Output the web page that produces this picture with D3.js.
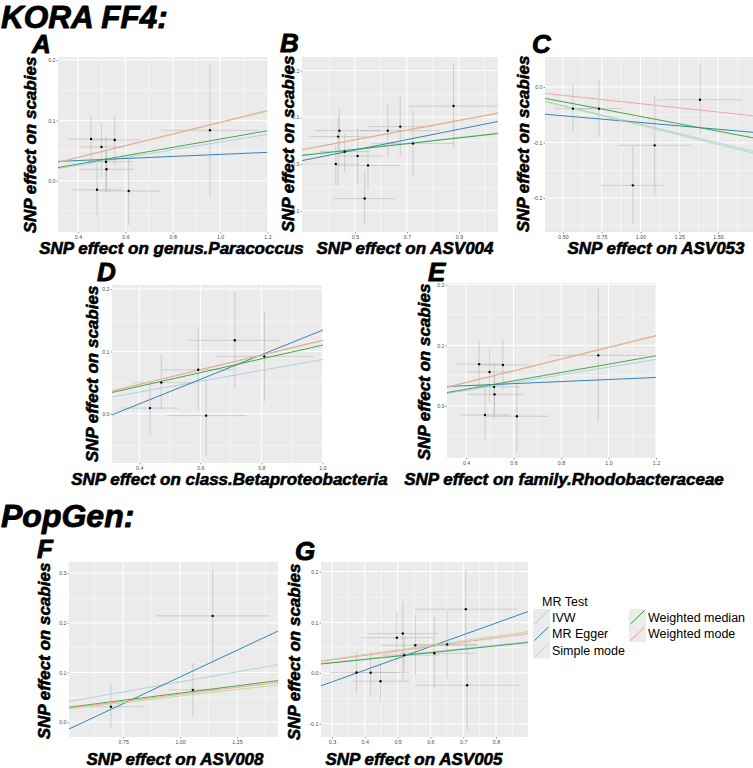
<!DOCTYPE html>
<html><head><meta charset="utf-8">
<script src="https://cdn.jsdelivr.net/npm/d3@7"></script>
<style>body{margin:0;background:#fff}svg{display:block}</style>
</head><body>
<svg id="c" width="753" height="768"></svg>
<script>
// ---------- data ----------
const methods = ["IVW", "MR Egger", "Simple mode", "Weighted median", "Weighted mode"];
const methodColors = ["#a6cee3", "#1f78b4", "#b2df8a", "#33a02c", "#fb9a99"];
const yLabel = "SNP effect on scabies";

// each SNP: [x, y, xLow, xHigh, yLow, yHigh]
const snpA = [
  [0.455, 0.069, 0.355, 0.560, 0.028, 0.108],
  [0.499, 0.056, 0.403, 0.597, 0.006, 0.097],
  [0.555, 0.0675, 0.456, 0.668, 0.0255, 0.109],
  [0.518, 0.0315, 0.442, 0.633, -0.021, 0.072],
  [0.520, 0.019, 0.403, 0.637, -0.015, 0.051],
  [0.480, -0.015, 0.375, 0.582, -0.057, 0.028],
  [0.614, -0.017, 0.485, 0.750, -0.074, 0.036],
  [0.957, 0.0835, 0.750, 1.161, -0.027, 0.194]
];
const snpB = [
  [0.440, 0.0714, 0.346, 0.596, 0.022, 0.119],
  [0.435, 0.0586, 0.327, 0.545, -0.046, 0.101],
  [0.460, 0.0264, 0.365, 0.558, -0.017, 0.065],
  [0.426, 0.000, 0.290, 0.520, -0.046, 0.040],
  [0.510, 0.017, 0.436, 0.609, -0.042, 0.076],
  [0.550, -0.003, 0.429, 0.673, -0.053, 0.022],
  [0.537, -0.074, 0.417, 0.654, -0.131, -0.014],
  [0.626, 0.0714, 0.526, 0.827, 0.015, 0.129],
  [0.674, 0.080, 0.550, 0.800, 0.015, 0.144],
  [0.723, 0.0436, 0.564, 0.878, -0.028, 0.115],
  [0.879, 0.124, 0.705, 1.060, 0.036, 0.215]
];
const snpC = [
  [0.564, -0.039, 0.444, 0.687, -0.080, 0.003],
  [0.732, -0.039, 0.590, 0.886, -0.089, 0.012],
  [1.092, -0.105, 0.861, 1.330, -0.195, -0.016],
  [0.951, -0.177, 0.745, 1.152, -0.247, -0.107],
  [1.384, -0.023, 1.105, 1.659, -0.086, 0.040]
];
const snpD = [
  [0.435, 0.0091, 0.342, 0.528, -0.034, 0.049],
  [0.472, 0.050, 0.375, 0.583, 0.0075, 0.096],
  [0.593, 0.0706, 0.474, 0.708, 0.005, 0.137],
  [0.619, -0.003, 0.490, 0.750, -0.068, 0.055],
  [0.713, 0.118, 0.561, 0.861, 0.041, 0.195],
  [0.810, 0.092, 0.651, 0.973, 0.020, 0.164]
];
const snpE = snpA;
const snpF = [
  [0.696, 0.031, 0.600, 0.840, -0.014, 0.077],
  [1.056, 0.065, 0.950, 1.160, 0.011, 0.120],
  [1.143, 0.214, 0.894, 1.391, 0.119, 0.307]
];
const snpG = [
  [0.375, 0.0013, 0.294, 0.502, -0.040, 0.042],
  [0.418, 0.0007, 0.360, 0.536, -0.043, 0.042],
  [0.448, -0.016, 0.362, 0.536, -0.057, 0.022],
  [0.498, 0.0697, 0.390, 0.609, 0.019, 0.121],
  [0.516, 0.078, 0.411, 0.624, -0.014, 0.141],
  [0.520, 0.0355, 0.451, 0.629, 0.0026, 0.072],
  [0.554, 0.055, 0.451, 0.741, -0.004, 0.114],
  [0.612, 0.039, 0.507, 0.741, -0.030, 0.111],
  [0.651, 0.0566, 0.558, 0.746, -0.011, 0.124],
  [0.708, 0.126, 0.553, 0.863, 0.045, 0.203],
  [0.712, -0.024, 0.556, 0.871, -0.1125, 0.055]
];

// slopes in method order; only MR Egger has an intercept
const slopesA = [0.064, 0.017, 0.096, 0.069, 0.097];
const slopesB = [0.063, 0.111, 0.103, 0.062, 0.104];
const slopesC = [-0.067, -0.0243, -0.069, -0.053, -0.030];
const slopesD = [0.087, 0.197, 0.117, 0.110, 0.118];
const slopesE = slopesA;
const slopesF = [0.081, 0.215, 0.0525, 0.0585, 0.056];
const slopesG = [0.069, 0.232, 0.091, 0.067, 0.087];
const eggerIntercepts = {A: 0.0266, B: -0.0256, C: -0.0396, D: -0.063, E: 0.0266, F: -0.124, G: -0.087};

const xLabels = {
  A: "SNP effect on genus.Paracoccus",
  B: "SNP effect on ASV004",
  C: "SNP effect on ASV053",
  D: "SNP effect on class.Betaproteobacteria",
  E: "SNP effect on family.Rhodobacteraceae",
  F: "SNP effect on ASV008",
  G: "SNP effect on ASV005"
};
const xTicks = {
  A: [0.4, 0.6, 0.8, 1.0, 1.2], B: [0.5, 0.7, 0.9], C: [0.5, 0.75, 1.0, 1.25, 1.5],
  D: [0.4, 0.6, 0.8, 1.0], E: [0.4, 0.6, 0.8, 1.0, 1.2], F: [0.75, 1.0, 1.25],
  G: [0.3, 0.4, 0.5, 0.6, 0.7, 0.8]
};
const yTicks = {
  A: [0, 0.1, 0.2], B: [-0.1, 0, 0.1, 0.2], C: [-0.2, -0.1, 0], D: [0, 0.1, 0.2],
  E: [0, 0.1, 0.2], F: [0, 0.1, 0.2, 0.3], G: [-0.1, 0, 0.1, 0.2]
};
const xDomains = {
  A: [0.3154, 1.2], B: [0.296, 1.05], C: [0.384, 1.726], D: [0.3105, 1.002],
  E: [0.3197, 1.2], F: [0.512, 1.43], G: [0.2665, 0.8976]
};
const yDomains = {
  A: [-0.085, 0.205], B: [-0.1456, 0.229], C: [-0.261, 0.054], D: [-0.079, 0.2066],
  E: [-0.086, 0.203], F: [-0.030, 0.3226], G: [-0.126, 0.219]
};

// ---------- layout ----------
const layout = {
  A: {l: 58, r: 267.5, t: 57, b: 232, lx: 32, ly: 53, yx: 36, yy: 145, xx: 171.5, xy: 254, xf: ".1f"},
  B: {l: 302, r: 498, t: 57, b: 232, lx: 280, ly: 52, yx: 293.5, yy: 144, xx: 405, xy: 254, xf: ".1f"},
  C: {l: 545, r: 753, t: 57, b: 232, lx: 532, ly: 53, yx: 528.5, yy: 144, xx: 656, xy: 254, xf: ".2f"},
  D: {l: 112, r: 323, t: 285, b: 463, lx: 97, ly: 281, yx: 98, yy: 374, xx: 229.5, xy: 485, xf: ".1f"},
  E: {l: 447, r: 656, t: 283, b: 458, lx: 428, ly: 281, yx: 430, yy: 372, xx: 564, xy: 485, xf: ".1f"},
  F: {l: 69, r: 278, t: 562, b: 737, lx: 37, ly: 558, yx: 50, yy: 651, xx: 175, xy: 765, xf: ".2f"},
  G: {l: 321, r: 528, t: 562, b: 737, lx: 295, ly: 560, yx: 300, yy: 652, xx: 414, xy: 765, xf: ".1f"}
};
const snps = {A: snpA, B: snpB, C: snpC, D: snpD, E: snpE, F: snpF, G: snpG};
const slopes = {A: slopesA, B: slopesB, C: slopesC, D: slopesD, E: slopesE, F: slopesF, G: slopesG};

const FONT = "'Liberation Sans', Arial, Helvetica, sans-serif";
const svg = d3.select("#c");

function boldText(sel, size, stroke) {
  return sel.style("font-family", FONT).style("font-weight", "bold").style("font-style", "italic")
    .style("font-size", size + "px").attr("fill", "#000")
    .attr("stroke", "#000").attr("stroke-width", stroke).attr("stroke-linejoin", "round");
}
function heading(text, x, y, size) {
  boldText(svg.append("text").attr("x", x).attr("y", y).text(text), size, 0.9);
}
heading("KORA FF4:", 1, 28, 31.5);
heading("PopGen:", 1, 527, 32);

function minorOf(ticks, dom) {
  const step = ticks.length > 1 ? ticks[1] - ticks[0] : 0.1;
  const out = [];
  for (let v = ticks[0] - step / 2; v <= dom[1] + 1e-9; v += step) {
    if (v >= dom[0] - 1e-9) out.push(v);
  }
  return out;
}

Object.keys(layout).forEach(key => {
  const L = layout[key];
  const x = d3.scaleLinear().domain(xDomains[key]).range([L.l, L.r]);
  const y = d3.scaleLinear().domain(yDomains[key]).range([L.b, L.t]);
  const g = svg.append("g");
  const clipId = "clip" + key;
  g.append("clipPath").attr("id", clipId).append("rect")
    .attr("x", L.l).attr("y", L.t).attr("width", L.r - L.l).attr("height", L.b - L.t);

  g.append("rect").attr("x", L.l).attr("y", L.t).attr("width", L.r - L.l).attr("height", L.b - L.t)
    .attr("fill", "#ebebeb");

  const grid = g.append("g").attr("clip-path", `url(#${clipId})`);
  minorOf(xTicks[key], xDomains[key]).forEach(v => {
    grid.append("line").attr("x1", x(v)).attr("x2", x(v)).attr("y1", L.t).attr("y2", L.b)
      .attr("stroke", "#fff").attr("stroke-width", 0.5);
  });
  minorOf(yTicks[key], yDomains[key]).forEach(v => {
    grid.append("line").attr("y1", y(v)).attr("y2", y(v)).attr("x1", L.l).attr("x2", L.r)
      .attr("stroke", "#fff").attr("stroke-width", 0.5);
  });
  xTicks[key].forEach(v => {
    grid.append("line").attr("x1", x(v)).attr("x2", x(v)).attr("y1", L.t).attr("y2", L.b)
      .attr("stroke", "#fff").attr("stroke-width", 1);
  });
  yTicks[key].forEach(v => {
    grid.append("line").attr("y1", y(v)).attr("y2", y(v)).attr("x1", L.l).attr("x2", L.r)
      .attr("stroke", "#fff").attr("stroke-width", 1);
  });

  // error bars
  const eb = g.append("g").attr("clip-path", `url(#${clipId})`);
  snps[key].forEach(d => {
    eb.append("line").attr("x1", x(d[0])).attr("x2", x(d[0])).attr("y1", y(d[4])).attr("y2", y(d[5]))
      .attr("stroke", "#9a9a9a").attr("stroke-opacity", 0.55).attr("stroke-width", 0.7);
    eb.append("line").attr("x1", x(d[2])).attr("x2", x(d[3])).attr("y1", y(d[1])).attr("y2", y(d[1]))
      .attr("stroke", "#9a9a9a").attr("stroke-opacity", 0.55).attr("stroke-width", 0.7);
  });

  // MR regression lines
  const ln = g.append("g").attr("clip-path", `url(#${clipId})`);
  const [x0, x1] = xDomains[key];
  methods.forEach((m, i) => {
    const b = slopes[key][i];
    const a = m === "MR Egger" ? eggerIntercepts[key] : 0;
    ln.append("line").attr("x1", x(x0)).attr("x2", x(x1))
      .attr("y1", y(a + b * x0)).attr("y2", y(a + b * x1))
      .attr("stroke", methodColors[i]).attr("stroke-width", 0.9);
  });

  // points
  g.append("g").selectAll("circle").data(snps[key]).join("circle")
    .attr("cx", d => x(d[0])).attr("cy", d => y(d[1])).attr("r", 1.2).attr("fill", "#000");

  // axes
  const yfmt = d3.format(".1f");
  const ax = g.append("g").attr("transform", `translate(${L.l},0)`)
    .call(d3.axisLeft(y).tickValues(yTicks[key]).tickSize(1.5).tickPadding(1)
      .tickFormat(v => yfmt(v).replace("−", "-")));
  const bx = g.append("g").attr("transform", `translate(0,${L.b})`)
    .call(d3.axisBottom(x).tickValues(xTicks[key]).tickSize(1.5).tickPadding(1.5)
      .tickFormat(d3.format(L.xf)));
  [ax, bx].forEach(a => {
    a.select(".domain").remove();
    a.selectAll(".tick line").attr("stroke", "#333").attr("stroke-width", 0.5);
    a.selectAll(".tick text").attr("fill", "#4d4d4d").style("font-size", "5.3px")
      .style("font-family", FONT);
  });

  // panel letter
  heading(key, L.lx, L.ly, 26);

  // axis titles
  boldText(svg.append("text").attr("transform", `translate(${L.yx},${L.yy}) rotate(-90)`)
    .attr("text-anchor", "middle").text(yLabel), 17, 0.6);
  boldText(svg.append("text").attr("x", L.xx).attr("y", L.xy)
    .attr("text-anchor", "middle").text(xLabels[key]), 17, 0.6);
});

// ---------- legend ----------
const leg = svg.append("g");
leg.append("text").attr("x", 542).attr("y", 606).text("MR Test")
  .style("font-family", FONT).style("font-size", "12.5px");
const keyW = 17, keyH = 16.5;
methods.forEach((m, i) => {
  const col = i < 3 ? 0 : 1;
  const row = i < 3 ? i : i - 3;
  const kx = col === 0 ? 533 : 629;
  const ky = 609 + row * keyH;
  leg.append("rect").attr("x", kx).attr("y", ky).attr("width", keyW).attr("height", keyH)
    .attr("fill", "#ebebeb");
  leg.append("line").attr("x1", kx + 1.5).attr("y1", ky + keyH - 1.5)
    .attr("x2", kx + keyW - 1.5).attr("y2", ky + 1.5)
    .attr("stroke", methodColors[i]).attr("stroke-width", 1);
  leg.append("text").attr("x", kx + keyW + 2).attr("y", ky + keyH / 2 + 4.3).text(m)
    .style("font-family", FONT).style("font-size", "12.5px");
});
</script>
</body></html>
